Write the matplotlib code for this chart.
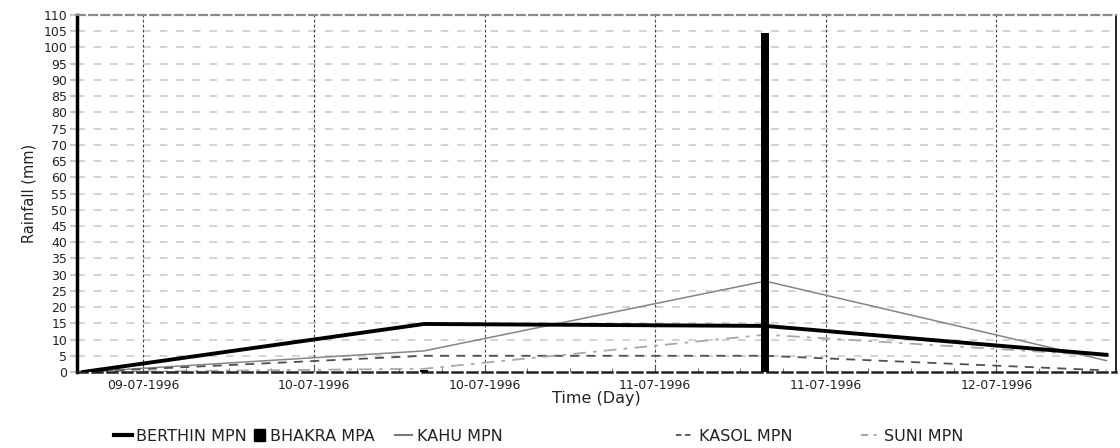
import matplotlib
matplotlib.use("Agg")
import matplotlib.pyplot as plt
import matplotlib.dates as mdates
from matplotlib.lines import Line2D
from matplotlib.patches import Patch
import pandas as pd

plt.rcParams['font.family'] = ['DejaVu Sans']

# Daily rainfall readings (mm)
dates = pd.to_datetime(['1996-07-09 07:45', '1996-07-10 07:45',
                        '1996-07-11 07:45', '1996-07-12 07:45'])
berthin = [0.0, 14.8, 14.2, 5.3]
bhakra = [0.0, 0.5, 104.5, 0.0]
kahu = [0.0, 6.5, 28.0, 3.5]
kasol = [0.0, 5.0, 5.0, 0.5]
suni = [0.0, 1.0, 11.5, 5.0]

series_names = ['BERTHIN MPN', 'BHAKRA MPA', 'KAHU MPN', 'KASOL MPN', 'SUNI MPN']
y_ticks = list(range(0, 111, 5))

fig = plt.figure(figsize=(11.2, 4.48), dpi=100)
ax = fig.add_axes([77 / 1120, 1 - 372 / 448, (1116 - 77) / 1120, (372 - 15) / 448])

# gridlines
for yv in y_ticks[1:-1]:
    ax.axhline(yv, color='#d2d2d2', lw=1.4, ls=(0, (4, 4.5)), zorder=0)

ax.bar(dates, bhakra, width=0.0235, color='black', zorder=3)
ax.plot(dates, kahu, color='#858585', lw=1.1, zorder=2)
ax.plot(dates, kasol, color='#505050', lw=1.3, ls=(0, (5, 4)), zorder=2)
ax.plot(dates, suni, color='#a8a8a8', lw=1.3, ls=(0, (7, 4, 2, 4)), zorder=2)
ax.plot(dates, berthin, color='black', lw=2.8, zorder=4)

ax.set_ylim(0, 110)
ax.set_yticks(y_ticks)
ax.set_xlim(pd.Timestamp('1996-07-09 07:20'), pd.Timestamp('1996-07-12 08:25'))

ax.xaxis.set_major_locator(mdates.HourLocator(byhour=[0, 12]))
ax.xaxis.set_major_formatter(mdates.DateFormatter('%d-%m-%Y'))
ax.xaxis.set_minor_locator(mdates.HourLocator(byhour=[3, 6, 9, 15, 18, 21]))
ax.grid(axis='x', which='major', color='#404040', lw=0.8, ls=(0, (2.5, 2)))

ax.tick_params(axis='x', which='major', direction='in', length=4, color='#555555',
               labelsize=9, pad=5, labelcolor='#222222')
ax.tick_params(axis='x', which='minor', direction='in', length=3, color='#555555')
ax.tick_params(axis='y', direction='out', length=5, width=1.5, color='#c8c8c8',
               labelsize=9, pad=2, labelcolor='#222222')

ax.spines['left'].set_linewidth(2.5)
ax.spines['left'].set_color('black')
ax.spines['right'].set_linewidth(1.2)
ax.spines['top'].set_color('#8a8a8a')
ax.spines['top'].set_linewidth(1.6)
ax.spines['top'].set_linestyle((0, (3.5, 2)))
ax.spines['bottom'].set_color('#222222')
ax.spines['bottom'].set_linewidth(1.8)
ax.spines['bottom'].set_linestyle((0, (4, 2)))

ax.set_xlabel('Time (Day)', fontsize=11.5, labelpad=-1, color='#222222')
ax.set_ylabel('Rainfall (mm)', fontsize=10.5, labelpad=5, color='#222222')

# legend entries placed along the bottom
handles = [
    Line2D([], [], color='black', lw=3),
    Patch(facecolor='black', edgecolor='black'),
    Line2D([], [], color='#7a7a7a', lw=1.5),
    Line2D([], [], color='#505050', lw=1.3, ls=(0, (3, 2))),
    Line2D([], [], color='#9a9a9a', lw=1.3, ls=(0, (4, 3, 1.5, 3))),
]
anchor_x = [114, 254, 395, 676, 861]
hlen = [1.1, 0.7, 1.05, 1.15, 1.15]
for h, name, xp, hl in zip(handles, series_names, anchor_x, hlen):
    fig.legend([h], [name], loc='center left', bbox_to_anchor=(xp / 1120, 1 - 436 / 448),
               frameon=False, fontsize=11.5, handlelength=hl, handleheight=0.75,
               handletextpad=0.3, borderpad=0, borderaxespad=0, labelcolor='#222222')

fig.savefig('out.png', dpi=100)
